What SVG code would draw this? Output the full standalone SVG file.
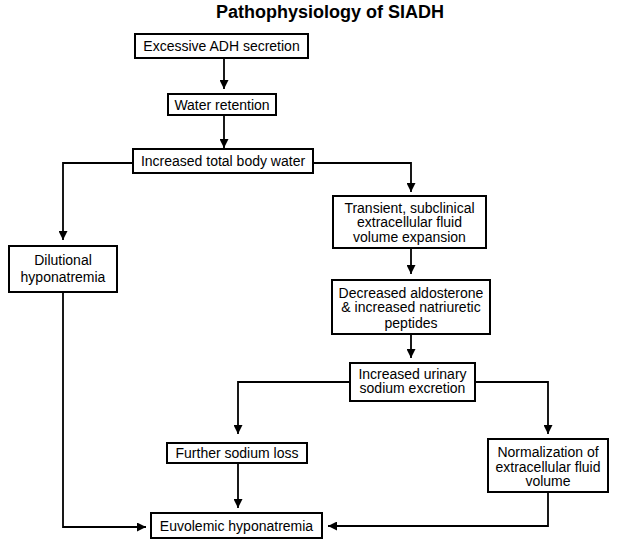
<svg xmlns="http://www.w3.org/2000/svg" width="618" height="552" viewBox="0 0 618 552">
<style>
.box{fill:#fff;stroke:#000;stroke-width:2}
.t{font-family:"Liberation Sans",Arial,sans-serif;font-size:14px;fill:#000;text-anchor:middle}
.title{font-family:"Liberation Sans",Arial,sans-serif;font-size:18px;font-weight:bold;fill:#000;text-anchor:middle}
.c{fill:none;stroke:#000;stroke-width:1.8}
</style>
<defs>
<marker id="ah" viewBox="0 0 10 10" refX="10" refY="5" markerWidth="5" markerHeight="5" orient="auto" markerUnits="strokeWidth">
<path d="M0,0 L10,5 L0,10 z" fill="#000"/>
</marker>
</defs>
<rect width="618" height="552" fill="#fff"/>
<text class="title" x="330" y="18">Pathophysiology of SIADH</text>
<g id="connectors">
<path class="c" d="M224,58 V89" marker-end="url(#ah)"/>
<path class="c" d="M224,115 V148" marker-end="url(#ah)"/>
<path class="c" d="M133,163 H63 V240" marker-end="url(#ah)"/>
<path class="c" d="M313,163 H411 V192" marker-end="url(#ah)"/>
<path class="c" d="M411,248 V274" marker-end="url(#ah)"/>
<path class="c" d="M411,334 V358" marker-end="url(#ah)"/>
<path class="c" d="M350,382 H238 V434" marker-end="url(#ah)"/>
<path class="c" d="M475,382 H548 V434" marker-end="url(#ah)"/>
<path class="c" d="M238,463 V508" marker-end="url(#ah)"/>
<path class="c" d="M63,292 V527 H146" marker-end="url(#ah)"/>
<path class="c" d="M548,492 V526 H328" marker-end="url(#ah)"/>
</g>
<g id="n1"><rect class="box" x="135" y="34" width="173" height="24"/><text class="t" x="221.5" y="51">Excessive ADH secretion</text></g>
<g id="n2"><rect class="box" x="168" y="94" width="108" height="21"/><text class="t" x="222" y="109.5">Water retention</text></g>
<g id="n3"><rect class="box" x="133" y="149" width="180" height="24"/><text class="t" x="223" y="166">Increased total body water</text></g>
<g id="n4"><rect class="box" x="9" y="246" width="108" height="46"/><text class="t" x="63" y="265">Dilutional</text><text class="t" x="63" y="282">hyponatremia</text></g>
<g id="n5"><rect class="box" x="333" y="196" width="153" height="52"/><text class="t" x="409.5" y="212.5">Transient, subclinical</text><text class="t" x="409.5" y="227">extracellular fluid</text><text class="t" x="409.5" y="242">volume expansion</text></g>
<g id="n6"><rect class="box" x="332" y="280" width="158" height="54"/><text class="t" x="411" y="297.5">Decreased aldosterone</text><text class="t" x="411" y="312">&amp; increased natriuretic</text><text class="t" x="411" y="327.5">peptides</text></g>
<g id="n7"><rect class="box" x="350" y="363" width="125" height="38"/><text class="t" x="412.5" y="378.5">Increased urinary</text><text class="t" x="412.5" y="393">sodium excretion</text></g>
<g id="n8"><rect class="box" x="167" y="443" width="140" height="20"/><text class="t" x="237" y="457.5">Further sodium loss</text></g>
<g id="n9"><rect class="box" x="488" y="439" width="120" height="53"/><text class="t" x="548" y="456.5">Normalization of</text><text class="t" x="548" y="471.5">extracellular fluid</text><text class="t" x="548" y="486">volume</text></g>
<g id="n10"><rect class="box" x="151" y="513" width="171" height="25"/><text class="t" x="236.5" y="530.5">Euvolemic hyponatremia</text></g>
</svg>
